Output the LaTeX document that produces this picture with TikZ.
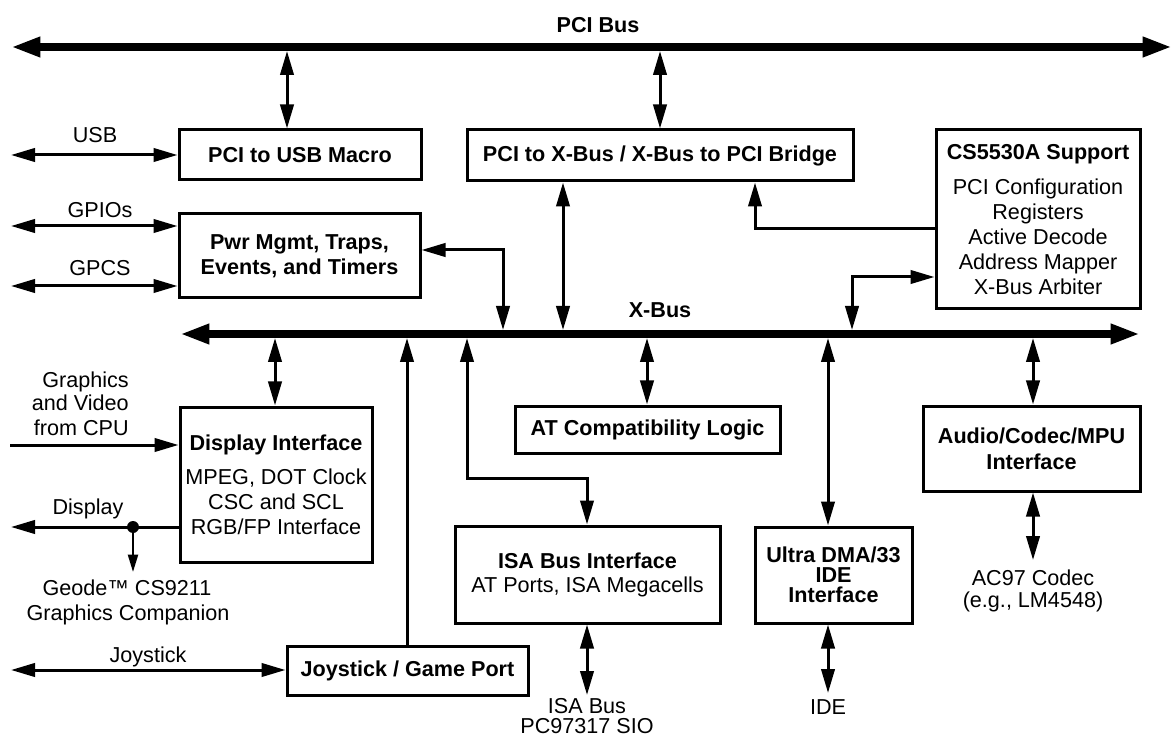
\documentclass[tikz,border=0pt]{standalone}
\usepackage{fontspec}
\setmainfont{Liberation Sans}
\usetikzlibrary{arrows.meta}
\begin{document}
\begin{tikzpicture}[x=0.75pt,y=-0.75pt,
  >={Triangle[length=18pt,width=10pt]},
  basefont/.style={font=\fontsize{16.2}{18.75}\selectfont},
  box/.style={draw, line width=2.25pt, inner sep=2pt, align=center, basefont},
  bbox/.style={box, font=\fontsize{16.2}{18.75}\selectfont\bfseries},
  lbl/.style={anchor=base, inner sep=0pt, basefont},
  rlbl/.style={anchor=base east, inner sep=0pt, basefont},
  blbl/.style={anchor=base, inner sep=0pt, font=\fontsize{16.2}{18.75}\selectfont\bfseries},
  bus/.style={line width=6pt, {Triangle[length=22pt,width=14pt]}-{Triangle[length=22pt,width=14pt]}},
  conn/.style={line width=2.25pt},
  thinconn/.style={line width=1.6pt, -{Triangle[length=13pt,width=7.5pt]}},
  dotn/.style={circle, fill, inner sep=0pt, minimum size=9pt}
]
\useasboundingbox (0,0) rectangle (1173,737);

% ---- buses
\coordinate (pciL) at (11,47);
\coordinate (pciR) at (1172,47);
\coordinate (xL) at (180,334);
\coordinate (xR) at (1140,334);
\coordinate (pciB) at (0,51);
\coordinate (xT) at (0,330);
\coordinate (xBo) at (0,338);
\draw[bus] (pciL) -- (pciR);
\draw[bus] (xL) -- (xR);
\node[blbl] (pcilbl) at (598,32.7) {PCI Bus};
\node[blbl] (xlbl) at (660,317.7) {X-Bus};

% ---- boxes
\node[bbox, minimum width=181.5pt, minimum height=37.5pt] (usb) at (300,155) {PCI to USB Macro};
\node[bbox, minimum width=289.5pt, minimum height=38.25pt] (bridge) at (660,155.5) {PCI to X-Bus / X-Bus to PCI Bridge};
\node[box, minimum width=153pt, minimum height=134.25pt] (cs) at (1038,219.5)
  {\textbf{CS5530A Support}\\[7.5pt]PCI Configuration\\Registers\\Active Decode\\Address Mapper\\X-Bus Arbiter};
\node[bbox, minimum width=180.75pt, minimum height=63pt] (pwr) at (299.5,256) {Pwr Mgmt, Traps,\\Events, and Timers};
\node[box, minimum width=144pt, minimum height=116.25pt] (disp) at (276,484.5)
  {\textbf{Display Interface}\\[6.75pt]MPEG, DOT Clock\\CSC and SCL\\RGB/FP Interface};
\node[bbox, minimum width=198.75pt, minimum height=35.25pt] (at) at (647.5,429.5) {AT Compatibility Logic};
\node[bbox, minimum width=162.75pt, minimum height=63.75pt] (audio) at (1031.5,448.5) {Audio/Codec/MPU\\[0.75pt]Interface};
\node[box, minimum width=198.75pt, minimum height=72.75pt] (isa) at (587.5,574.5)
  {\textbf{ISA Bus Interface}\\[-0.75pt]AT Ports, ISA Megacells};
\node[bbox, minimum width=117.75pt, minimum height=72pt, font=\fontsize{16.2}{15}\selectfont\bfseries] (ide) at (833.5,575)
  {Ultra DMA/33\\IDE\\Interface};
\node[bbox, minimum width=180.75pt, minimum height=36.75pt] (joy) at (407.5,670.5) {Joystick / Game Port};

% ---- PCI side connectors
\coordinate (kU) at (287,0);
\coordinate (kBr) at (660,0);
\draw[conn,<->] (usb.north -| kU) -- (kU |- pciB);
\draw[conn,<->] (bridge.north -| kBr) -- (kBr |- pciB);

% ---- left external connectors
\coordinate (usbX) at (11,155);
\coordinate (gpioX) at (11,226);
\coordinate (gpcsX) at (11,286);
\draw[conn,<->] (usbX) -- (usbX -| usb.west);
\draw[conn,<->] (gpioX) -- (gpioX -| pwr.west);
\draw[conn,<->] (gpcsX) -- (gpcsX -| pwr.west);
\node[lbl] (lusb) at (95,142.7) {USB};
\node[lbl] (lgpio) at (100,217.7) {GPIOs};
\node[lbl] (lgpcs) at (100,275.7) {GPCS};

% ---- upper connectors to X-Bus
\coordinate (kPw) at (503,250);
\draw[conn,<->] (pwr.east |- kPw) -- (kPw) -- (kPw |- xT);
\coordinate (kBx) at (563,0);
\draw[conn,<->] (bridge.south -| kBx) -- (kBx |- xT);
\coordinate (kCb) at (755,229);
\draw[conn,->] (cs.west |- kCb) -- (kCb) -- (kCb |- bridge.south);
\coordinate (kCx) at (852,277);
\draw[conn,<->] (kCx |- xT) -- (kCx) -- (kCx -| cs.west);

% ---- lower connectors from X-Bus
\coordinate (kD) at (275,0);
\draw[conn,<->] (kD |- xBo) -- (disp.north -| kD);
\coordinate (kJ) at (407,0);
\draw[conn,->] (joy.north -| kJ) -- (kJ |- xBo);
\coordinate (kI1) at (467,478);
\coordinate (kI2) at (587,478);
\draw[conn,<->] (kI1 |- xBo) -- (kI1) -- (kI2) -- (kI2 |- isa.north);
\coordinate (kA) at (647,0);
\draw[conn,<->] (kA |- xBo) -- (at.north -| kA);
\coordinate (kE) at (828,0);
\draw[conn,<->] (kE |- xBo) -- (ide.north -| kE);
\coordinate (kAu) at (1033,0);
\draw[conn,<->] (kAu |- xBo) -- (audio.north -| kAu);

% ---- display side
\coordinate (gfxX) at (10,445);
\draw[conn,->] (gfxX) -- (gfxX -| disp.west);
\node[rlbl] (lg1) at (129,387.7) {Graphics};
\node[rlbl] (lg2) at (129,410.7) {and Video};
\node[rlbl] (lg3) at (129,435.7) {from CPU};
\coordinate (dispX) at (11,527);
\draw[conn,->] (disp.west |- dispX) -- (dispX);
\node[dotn] (jn) at (133,527) {};
\coordinate (geoX) at (133,572);
\draw[thinconn] (jn.center) -- (geoX);
\node[lbl] (ldisp) at (88,514.7) {Display};
\node[lbl] (lgeo1) at (127,595.7) {Geode™ CS9211};
\node[lbl] (lgeo2) at (128,620.7) {Graphics Companion};

% ---- joystick
\coordinate (joyX) at (11,670);
\draw[conn,<->] (joyX) -- (joyX -| joy.west);
\node[lbl] (ljoy) at (148,662.7) {Joystick};

% ---- bottom externals
\coordinate (isaX) at (587,695);
\draw[conn,<->] (isa.south -| isaX) -- (isaX);
\node[lbl] (lisa1) at (587,713.5) {ISA Bus};
\node[lbl] (lisa2) at (587,733.5) {PC97317 SIO};
\coordinate (ideX) at (828,693);
\draw[conn,<->] (ide.south -| ideX) -- (ideX);
\node[lbl] (lide) at (828,714.7) {IDE};
\coordinate (audX) at (1033,560);
\draw[conn,<->] (audio.south -| audX) -- (audX);
\node[lbl] (lac1) at (1033,585.7) {AC97 Codec};
\node[lbl] (lac2) at (1033,607.7) {(e.g., LM4548)};
\end{tikzpicture}
\end{document}
